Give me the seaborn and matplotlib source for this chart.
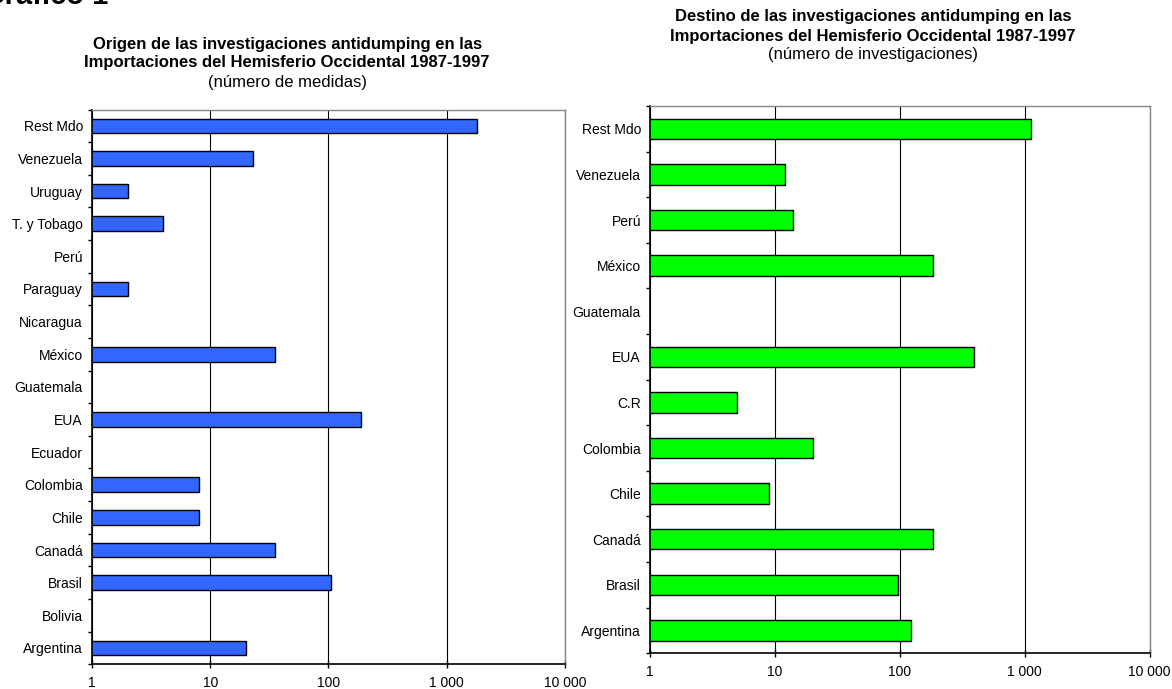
import matplotlib
matplotlib.use('Agg')
import matplotlib.pyplot as plt
import numpy as np
import pandas as pd
import seaborn as sns

# datos (de arriba hacia abajo)
origen_paises = ['Rest Mdo', 'Venezuela', 'Uruguay', 'T. y Tobago', 'Perú', 'Paraguay',
                 'Nicaragua', 'México', 'Guatemala', 'EUA', 'Ecuador', 'Colombia',
                 'Chile', 'Canadá', 'Brasil', 'Bolivia', 'Argentina']
origen_valores = [1800, 23, 2, 4, np.nan, 2, np.nan, 35, np.nan, 190, np.nan, 8,
                  8, 35, 105, np.nan, 20]

destino_paises = ['Rest Mdo', 'Venezuela', 'Perú', 'México', 'Guatemala', 'EUA', 'C.R',
                  'Colombia', 'Chile', 'Canadá', 'Brasil', 'Argentina']
destino_valores = [1125, 12, 14, 185, np.nan, 390, 5, 20, 9, 185, 96, 122]

x_ticks = [1, 10, 100, 1000, 10000]
x_labels = ['1', '10', '100', '1 000', '10 000']

sns.set_style("white")
plt.rcParams['font.family'] = ['Liberation Sans', 'DejaVu Sans']
plt.rcParams['text.color'] = 'black'
plt.rcParams['xtick.color'] = 'black'
plt.rcParams['ytick.color'] = 'black'

fig = plt.figure(figsize=(11.72, 6.89), dpi=100)
ax1 = fig.add_axes([0.0785, 0.036, 0.4035, 0.805])
ax2 = fig.add_axes([0.5546, 0.052, 0.4264, 0.794])


def dibujar(ax, paises, valores, color):
    df = pd.DataFrame({'pais': paises, 'valor': valores})
    sns.barplot(data=df, x='valor', y='pais', order=paises, orient='h',
                color=color, saturation=1, width=0.45, edgecolor='black',
                linewidth=1, ax=ax)
    ax.set_xscale('log')
    ax.set_xlim(1, 10000)
    ax.set_ylim(len(paises) - 0.5, -0.5)
    ax.set_xticks(x_ticks)
    ax.set_xticklabels(x_labels)
    ax.xaxis.set_minor_locator(matplotlib.ticker.NullLocator())
    ax.set_xlabel('')
    ax.set_ylabel('')
    ax.grid(axis='x', color='black', linewidth=0.8)
    ax.set_axisbelow(True)
    # marcas del eje y entre categorias
    ax.set_yticks(np.arange(len(paises) + 1) - 0.5, minor=True)
    ax.tick_params(axis='y', which='major', length=0, pad=6.5, labelsize=10)
    ax.tick_params(axis='y', which='minor', length=3, width=1, color='black', direction='out', left=True)
    ax.tick_params(axis='x', which='major', length=6, width=1, color='black', direction='inout',
                   bottom=True, labelsize=10, pad=5.5)
    for s in ['top', 'right']:
        ax.spines[s].set_color('#888888')
        ax.spines[s].set_linewidth(1)
    for s in ['left', 'bottom']:
        ax.spines[s].set_color('black')
        ax.spines[s].set_linewidth(1.2)


dibujar(ax1, origen_paises, origen_valores, '#3366FF')
dibujar(ax2, destino_paises, destino_valores, '#00FF00')

# titulos
fig.text(-18 / 1172, 1 - 4 / 689, 'Gráfico 1', fontsize=21, fontweight='bold', ha='left', va='baseline')

fig.text(0.245, 1 - 45 / 689, 'Origen de las investigaciones antidumping en las',
         fontsize=12, fontweight='bold', ha='center', va='center')
fig.text(0.245, 1 - 63 / 689, 'Importaciones del Hemisferio Occidental 1987-1997',
         fontsize=12, fontweight='bold', ha='center', va='center')
fig.text(0.245, 1 - 82 / 689, '(número de medidas)', fontsize=12, ha='center', va='center')

fig.text(0.745, 1 - 17 / 689, 'Destino de las investigaciones antidumping en las',
         fontsize=12, fontweight='bold', ha='center', va='center')
fig.text(0.745, 1 - 36 / 689, 'Importaciones del Hemisferio Occidental 1987-1997',
         fontsize=12, fontweight='bold', ha='center', va='center')
fig.text(0.745, 1 - 55 / 689, '(número de investigaciones)', fontsize=12, ha='center', va='center')

plt.savefig('out.png', dpi=100)
